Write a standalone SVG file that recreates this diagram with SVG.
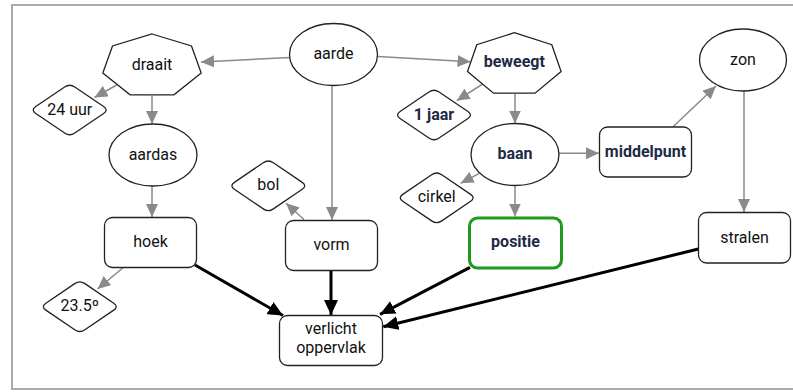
<svg xmlns="http://www.w3.org/2000/svg" xmlns:xlink="http://www.w3.org/1999/xlink" width="793" height="392" viewBox="0 0 793 392">
<style>
.node{fill:#fff;stroke:#222;stroke-width:1.3}
.hl{fill:#fff;stroke:#1f9a1f;stroke-width:3}
.t{font-family:Roboto,"Liberation Sans",sans-serif;font-size:16px;fill:#111;text-anchor:middle}
.b{font-weight:bold;fill:#1e2a45}
.g{fill:none;stroke:#8a8a8a;stroke-width:1.5}
.k{fill:none;stroke:#000;stroke-width:3}
</style>
<defs>
<marker id="ag" markerUnits="userSpaceOnUse" viewBox="0 0 13 12" markerWidth="13" markerHeight="12" refX="13" refY="6" orient="auto"><path d="M0,0 L13,6 L0,12 z" fill="#8a8a8a"/></marker>
<marker id="ak" markerUnits="userSpaceOnUse" viewBox="0 0 15 14" markerWidth="15" markerHeight="14" refX="15" refY="7" orient="auto"><path d="M0,0 L15,7 L0,14 z" fill="#000"/></marker>
<path id="dia" d="M5.07,-23.05 L33.93,-3.45 Q39,0 33.93,3.45 L5.07,23.05 Q0,26.5 -5.07,23.05 L-33.93,3.45 Q-39,0 -33.93,-3.45 L-5.07,-23.05 Q0,-26.5 5.07,-23.05 Z"/>
</defs>
<rect x="0" y="0" width="793" height="392" fill="#fff"/>
<rect x="12" y="5" width="790" height="384" fill="none" stroke="#aaa" stroke-width="2"/>

<g id="connectors">
<path class="g" marker-end="url(#ag)" d="M290,57.5 L201,62"/>
<path class="g" marker-end="url(#ag)" d="M377.5,56.5 L470.5,61.7"/>
<path class="g" marker-end="url(#ag)" d="M332,85.5 L332,220"/>
<path class="g" marker-end="url(#ag)" d="M116.7,85 L94.5,97.5"/>
<path class="g" marker-end="url(#ag)" d="M152,95.5 L152,124"/>
<path class="g" marker-end="url(#ag)" d="M152,186 L152,217"/>
<path class="g" marker-end="url(#ag)" d="M122.7,268 L97.5,289"/>
<path class="g" marker-end="url(#ag)" d="M304,219.5 L286,203.3"/>
<path class="g" marker-end="url(#ag)" d="M482.7,84 L456.7,100.7"/>
<path class="g" marker-end="url(#ag)" d="M515,93.5 L515,123.5"/>
<path class="g" marker-end="url(#ag)" d="M559,153.3 L599,153.3"/>
<path class="g" marker-end="url(#ag)" d="M479.3,173.3 L460.7,183.3"/>
<path class="g" marker-end="url(#ag)" d="M515,185.5 L515,216.5"/>
<path class="g" marker-end="url(#ag)" d="M673.3,126.5 L716,86"/>
<path class="g" marker-end="url(#ag)" d="M744,91 L744,212"/>
<path class="k" marker-end="url(#ak)" d="M195,265 L283,315.5"/>
<path class="k" marker-end="url(#ak)" d="M331,270.7 L331,315"/>
<path class="k" marker-end="url(#ak)" d="M470,267.3 L380,314.3"/>
<path class="k" marker-end="url(#ak)" d="M698.3,249 L383.3,326.7"/>
</g>

<g id="aarde"><ellipse class="node" cx="333.5" cy="54.5" rx="44" ry="31"/><text class="t" x="333.5" y="59">aarde</text></g>
<g id="draait"><polygon class="node" points="152,34 191.5,46 201.2,73.1 173.9,94.8 130.1,94.8 102.8,73.1 112.5,46"/><text class="t" x="152" y="70">draait</text></g>
<g id="beweegt"><polygon class="node" points="514.3,32.7 551.8,44.7 561.1,71.6 535.1,93.2 493.5,93.2 467.5,71.6 476.8,44.7"/><text class="t b" x="514.3" y="67">beweegt</text></g>
<g id="zon"><ellipse class="node" cx="743" cy="60" rx="43.5" ry="31"/><text class="t" x="743" y="64.5">zon</text></g>
<g id="uur24"><use href="#dia" x="69.7" y="110" class="node"/><text class="t" x="69.7" y="114.5">24 uur</text></g>
<g id="jaar1"><use href="#dia" x="434" y="115" class="node"/><text class="t b" x="434" y="119.5">1 jaar</text></g>
<g id="aardas"><ellipse class="node" cx="153" cy="155" rx="44" ry="31"/><text class="t" x="153" y="159.5">aardas</text></g>
<g id="baan"><ellipse class="node" cx="515" cy="154.5" rx="44" ry="31"/><text class="t b" x="515" y="159">baan</text></g>
<g id="middelpunt"><rect class="node" x="599.5" y="127" width="92" height="50" rx="8"/><text class="t b" x="645.5" y="156.5">middelpunt</text></g>
<g id="bol"><use href="#dia" x="268.3" y="185.8" class="node"/><text class="t" x="268.3" y="190.3">bol</text></g>
<g id="cirkel"><use href="#dia" x="436.7" y="197.8" class="node"/><text class="t" x="436.7" y="202.3">cirkel</text></g>
<g id="hoek"><rect class="node" x="104.5" y="217.5" width="92" height="50" rx="8"/><text class="t" x="150.5" y="247">hoek</text></g>
<g id="vorm"><rect class="node" x="285.5" y="220.5" width="92" height="50" rx="8"/><text class="t" x="331.5" y="249.5">vorm</text></g>
<g id="positie"><rect class="hl" x="469.5" y="218" width="92" height="50" rx="8"/><text class="t b" x="515.5" y="247">positie</text></g>
<g id="stralen"><rect class="node" x="698.5" y="212.5" width="92" height="50.5" rx="8"/><text class="t" x="744.5" y="242.5">stralen</text></g>
<g id="deg"><use href="#dia" x="79.8" y="306.7" class="node"/><text class="t" x="79.8" y="311.2">23.5º</text></g>
<g id="verlicht"><rect class="node" x="279.5" y="315.5" width="103" height="50" rx="8"/><text class="t" x="331" y="333.5">verlicht</text><text class="t" x="331" y="352.5">oppervlak</text></g>
</svg>
